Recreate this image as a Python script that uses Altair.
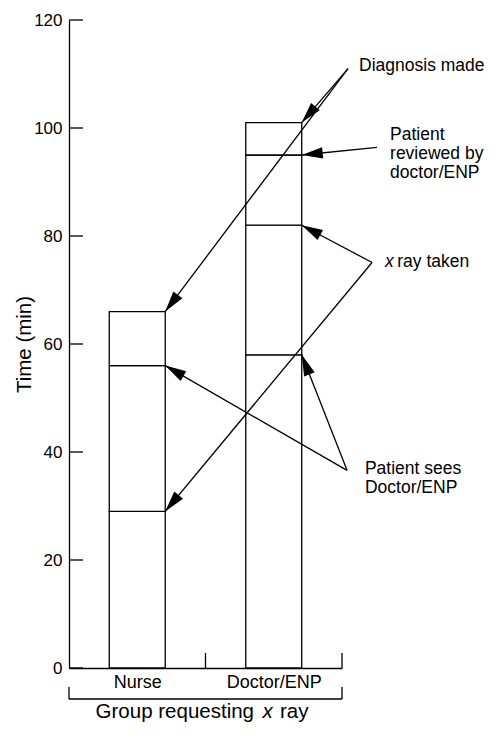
import json
import math
import altair as alt
import pandas as pd

# ---------------- data ----------------
groups = ["Nurse", "Doctor/ENP"]
nurse_times = [29, 56, 66]            # x ray taken, sees doctor, diagnosis
doctor_times = [58, 82, 95, 101]      # sees doctor, x ray taken, reviewed, diagnosis
y_ticks = [0, 20, 40, 60, 80, 100, 120]

# annotation anchor points (data units) and their targets (group index, time)
anchor_names = ["diag", "rev", "xray", "sees"]
anchor_x = [2.044, 2.256, 2.22, 2.037]
anchor_y = [111.0, 96.4, 75.1, 36.6]
arrow_from = ["diag", "diag", "rev", "xray", "xray", "sees", "sees"]
arrow_group = [0, 1, 1, 1, 0, 0, 1]
arrow_time = [66, 101, 95, 82, 29, 56, 58]

# annotation texts
ann_text = ["Diagnosis made", "Patient", "reviewed by", "doctor/ENP",
            "x", "ray taken", "Patient sees", "Doctor/ENP"]
ann_x = [2.125, 2.352, 2.352, 2.352, 2.315, 2.405, 2.168, 2.168]
ann_y = [111.4, 98.75, 95.17, 91.6, 75.1, 75.1, 36.82, 33.25]
ann_italic = [False, False, False, False, True, False, False, False]

x_title_parts = ["Group requesting", "x", "ray"]

# ---------------- geometry ----------------
W, H = 273, 648
X_MAX, Y_MAX = 2, 120
PX_X = W / X_MAX
PX_Y = H / Y_MAX
BAR_HALF = 0.205
FONT = "Liberation Sans"
SW = 1.3

seg_rows = []
for gi, times in enumerate([nurse_times, doctor_times]):
    prev = 0
    for t in times:
        seg_rows.append({"x": gi + 0.5 - BAR_HALF, "x2": gi + 0.5 + BAR_HALF,
                         "y": prev, "y2": t})
        prev = t
segs = pd.DataFrame(seg_rows)

anchors = {n: (ax, ay) for n, ax, ay in zip(anchor_names, anchor_x, anchor_y)}
arrow_rows = []
for src, gi, t in zip(arrow_from, arrow_group, arrow_time):
    ax, ay = anchors[src]
    tx, ty = gi + 0.5 + BAR_HALF, t
    dxp = (tx - ax) * PX_X
    dyp = -(ty - ay) * PX_Y
    ang = math.degrees(math.atan2(dxp, -dyp)) % 360
    arrow_rows.append({"x": ax, "y": ay, "x2": tx, "y2": ty, "ang": ang})
arrows = pd.DataFrame(arrow_rows)

# axis furniture: inward ticks and bracket under the x axis
tick_len_x = 14 / PX_X
tick_len_y = 15 / PX_Y
br_y = -31 / PX_Y
br_top = -19 / PX_Y
rule_rows = []
for v in y_ticks:
    rule_rows.append({"x": 0, "x2": tick_len_x, "y": v, "y2": v})
for v in [1, 2]:
    rule_rows.append({"x": v, "x2": v, "y": 0, "y2": tick_len_y})
rule_rows.append({"x": 0, "x2": X_MAX, "y": br_y, "y2": br_y})
for v in [0, X_MAX]:
    rule_rows.append({"x": v, "x2": v, "y": br_top, "y2": br_y})
rules = pd.DataFrame(rule_rows)

ann = pd.DataFrame({"text": ann_text, "x": ann_x, "y": ann_y, "italic": ann_italic})

title_y = -50 / PX_Y
xt = pd.DataFrame({"text": x_title_parts,
                   "x": [(254 - 69) / PX_X, (267.5 - 69) / PX_X, (280 - 69) / PX_X],
                   "y": [title_y] * 3})

# ---------------- shared scales / axes ----------------
xs = alt.Scale(domain=[0, X_MAX], nice=False, zero=False)
ys = alt.Scale(domain=[0, Y_MAX], nice=False, zero=False)

label_expr = f"{json.dumps(groups)}[round(datum.value - 0.5)]"
X_AX = alt.Axis(
    values=[0.5, 1.5], labelExpr=label_expr, ticks=False, tickSize=0, grid=False,
    labelPadding=5, labelFontSize=18, labelFont=FONT, labelColor="black",
    domainColor="black", domainWidth=SW, title=None, labelFlush=False)
Y_AX = alt.Axis(
    values=y_ticks, ticks=False, tickSize=0, grid=False, labelPadding=7,
    labelFontSize=17, labelFont=FONT, labelColor="black",
    domainColor="black", domainWidth=SW, title="Time (min)",
    titleFont=FONT, titleFontSize=20.5, titleFontWeight="normal",
    titleColor="black", titleX=-45, titleY=H / 2, titleBaseline="middle",
    titleAngle=270, labelFlush=False)


def X(field):
    return alt.X(field, type="quantitative", scale=xs, axis=X_AX)


def Y(field):
    return alt.Y(field, type="quantitative", scale=ys, axis=Y_AX)


bars = alt.Chart(segs).mark_rect(fill="white", stroke="black", strokeWidth=SW).encode(
    x=X("x"), x2="x2", y=Y("y"), y2="y2",
)

furniture = alt.Chart(rules).mark_rule(color="black", strokeWidth=SW).encode(
    x=X("x"), x2="x2", y=Y("y"), y2="y2",
)

arrow_lines = alt.Chart(arrows).mark_rule(color="black", strokeWidth=SW).encode(
    x=X("x"), x2="x2", y=Y("y"), y2="y2",
)

HEAD_LEN = 21
arrow_heads = alt.Chart(arrows).mark_point(
    shape="M0,0 L-0.27,1 L0.27,1 Z", filled=True, fill="black", strokeWidth=0,
    opacity=1, size=(2 * HEAD_LEN) ** 2,
).encode(
    x=X("x2"), y=Y("y2"),
    angle=alt.Angle("ang:Q", scale=None),
)

text_normal = alt.Chart(ann).transform_filter("!datum.italic").mark_text(
    align="left", baseline="middle", font=FONT, fontSize=17.5, color="black"
).encode(x=X("x"), y=Y("y"), text="text:N")

text_italic = alt.Chart(ann).transform_filter("datum.italic").mark_text(
    align="left", baseline="middle", font=FONT, fontSize=17.5, fontStyle="italic", color="black"
).encode(x=X("x"), y=Y("y"), text="text:N")

title_layers = []
for i, (al, st) in enumerate([("right", "normal"), ("center", "italic"), ("left", "normal")]):
    title_layers.append(
        alt.Chart(xt.iloc[[i]]).mark_text(
            align=al, baseline="alphabetic", font=FONT, fontSize=20.5,
            fontStyle=st, color="black"
        ).encode(x=X("x"), y=Y("y"), text="text:N")
    )

chart = alt.layer(bars, furniture, arrow_lines, arrow_heads, text_normal, text_italic,
                  *title_layers).properties(
    width=W, height=H,
    autosize=alt.AutoSizeParams(type="none"),
    padding={"left": 61, "top": 12, "right": 144, "bottom": 55},
).configure_view(stroke=None)

chart.save("out.html", embed_options={"renderer": "svg", "actions": False})
